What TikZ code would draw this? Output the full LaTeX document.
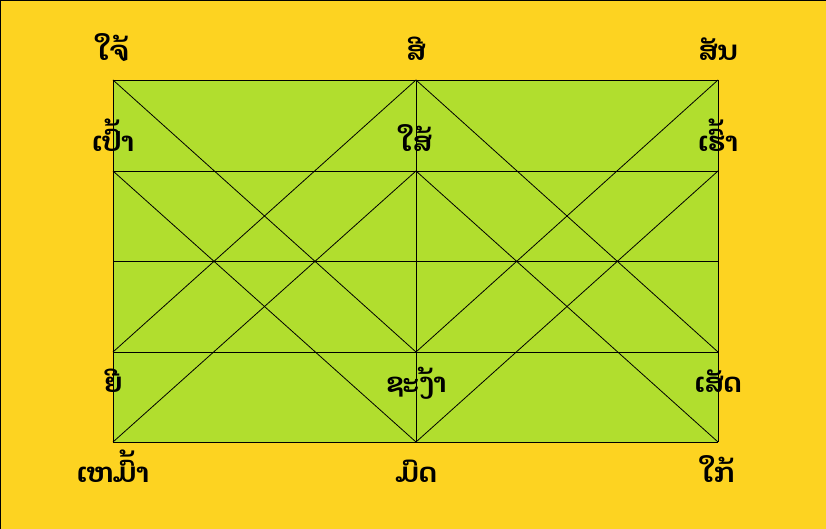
\documentclass[tikz,border=0pt]{standalone}
\usepackage{fontspec}
\usepackage{tikz}
\newfontfamily\laofont[Script=Lao]{Dhyana}
\definecolor{cback}{HTML}{FDD321}
\definecolor{cfield}{HTML}{B1DE2E}
\tikzset{
  lbl/.style={font=\laofont\bfseries\fontsize{27}{30}\selectfont,inner sep=0pt},
  up/.style={anchor=base,yshift=19pt},
  down/.style={anchor=base,yshift=-40pt},
  grid line/.style={draw=black,line width=0.8pt}
}

\begin{document}
\begin{tikzpicture}[x=1pt,y=-1pt]
  \useasboundingbox (0,0) rectangle (826,529);
  \fill[cback] (0,0) rectangle (826,529);
  \draw[line width=2pt] (0,540) -- (0,0) -- (840,0);

  % grid points, rows top to bottom, columns left to right
  \foreach \c/\x in {0/113,1/416,2/718}
    \foreach \r/\y in {0/80,1/171,2/261,3/352,4/442}
      \coordinate (p\r\c) at (\x,\y);

  \fill[cfield] (p00) rectangle (p42);

  % rows and columns
  \draw[grid line] (p00) -- (p02);
  \draw[grid line] (p10) -- (p12);
  \draw[grid line] (p20) -- (p22);
  \draw[grid line] (p30) -- (p32);
  \draw[grid line] (p40) -- (p42);
  \draw[grid line] (p00) -- (p40);
  \draw[grid line] (p01) -- (p41);
  \draw[grid line] (p02) -- (p42);

  % diagonals
  \draw[grid line] (p00) -- (p31);
  \draw[grid line] (p01) -- (p30);
  \draw[grid line] (p10) -- (p41);
  \draw[grid line] (p11) -- (p40);
  \draw[grid line] (p01) -- (p32);
  \draw[grid line] (p02) -- (p31);
  \draw[grid line] (p11) -- (p42);
  \draw[grid line] (p12) -- (p41);

  % labels
  \node[lbl,up] (l00) at (p00) {ໃຈ້};
  \node[lbl,up] (l01) at (p01) {ສີ};
  \node[lbl,up] (l02) at (p02) {ສັນ};
  \node[lbl,up] (l10) at (p10) {ເປົ້າ};
  \node[lbl,up] (l11) at (p11) {ໃສ້};
  \node[lbl,up] (l12) at (p12) {ເຮົ້າ};
  \node[lbl,down] (l30) at (p30) {ຍີ};
  \node[lbl,down] (l31) at (p31) {ຊະງ້າ};
  \node[lbl,down] (l32) at (p32) {ເສັດ};
  \node[lbl,down] (l40) at (p40) {ເຫມົ້າ};
  \node[lbl,down] (l41) at (p41) {ມົດ};
  \node[lbl,down] (l42) at (p42) {ໃກ້};
\end{tikzpicture}
\end{document}
